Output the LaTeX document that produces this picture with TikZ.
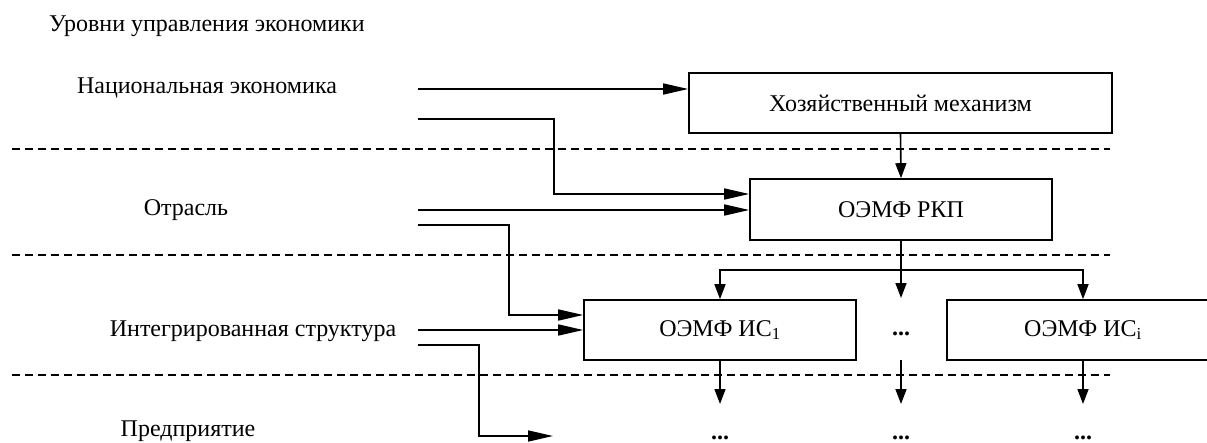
\documentclass[tikz,border=0pt]{standalone}
\usepackage{fontspec}
\setmainfont{Liberation Serif}
\usetikzlibrary{arrows.meta}
\tikzset{
  txt/.style={font=\fontsize{24}{28}\selectfont, inner sep=0pt},
  box/.style={draw, line width=1.6pt, inner sep=0pt, font=\fontsize{24}{28}\selectfont, minimum height=60pt},
  ln/.style={line width=1.6pt},
  harr/.style={ln, -{Triangle[length=25pt,width=11pt]}},
  varr/.style={ln, -{Triangle[length=15pt,width=11pt]}},
  sep/.style={line width=1.6pt, dash pattern=on 8pt off 5pt},
  dots/.style={font=\fontsize{24}{28}\selectfont\bfseries, inner sep=0pt, anchor=base}
}
\begin{document}
\begin{tikzpicture}[x=1pt,y=-1pt]
\useasboundingbox (0,0) rectangle (1207,442);
\clip (0,0) rectangle (1207,442);
% level labels
\node[txt, anchor=base west] (title) at (49,31) {Уровни управления экономики};
\node[txt, anchor=base] (nat) at (207,93) {Национальная экономика};
\node[txt, anchor=base] (otr) at (186,215) {Отрасль};
\node[txt, anchor=base] (int) at (253,336) {Интегрированная структура};
\node[txt, anchor=base] (pred) at (188,436) {Предприятие};
% separators
\coordinate (s1a) at (12,149); \coordinate (s1b) at (1110,149);
\coordinate (s2a) at (12,255); \coordinate (s2b) at (1110,255);
\coordinate (s3a) at (12,375); \coordinate (s3b) at (1110,375);
\draw[sep] (s1a) -- (s1b);
\draw[sep] (s2a) -- (s2b);
\draw[sep] (s3a) -- (s3b);
% boxes
\node[box, minimum width=423pt] (hoz) at (900.5,103) {Хозяйственный механизм};
\node[box, minimum width=302pt, minimum height=61pt] (rkp) at (901,209.5) {ОЭМФ РКП};
\node[box, minimum width=272pt] (is1) at (720,330) {ОЭМФ ИС\textsubscript{1}};
\node[box, minimum width=272pt] (isi) at (1083,330) {ОЭМФ ИС\textsubscript{i}};
% dots
\node[dots] (dmid) at (901,335) {...};
\node[dots] (d1) at (720,439) {...};
\node[dots] (d2) at (901,439) {...};
\node[dots] (d3) at (1083,439) {...};
% coordinates
\coordinate (n1) at (418,89);
\coordinate (n2) at (418,119);
\coordinate (c1) at (554,194);
\coordinate (o1) at (418,210);
\coordinate (o2) at (418,225);
\coordinate (c2) at (509,315);
\coordinate (i1) at (418,330);
\coordinate (i2) at (418,345);
\coordinate (c3) at (479,436);
\coordinate (p1) at (553,436);
\coordinate (j) at (901,270);
\coordinate (mtip) at (901,298);
\coordinate (m1) at (901,360);
\coordinate (m2) at (901,404);
\coordinate (t1) at (720,404);
\coordinate (t3) at (1083,404);
% connectors
\draw[harr] (n1) -- (n1 -| hoz.west);
\draw[harr] (n2) -| (c1) -- (c1 -| rkp.west);
\draw[varr] (hoz.south) -- (rkp.north);
\draw[harr] (o1) -- (o1 -| rkp.west);
\draw[harr] (o2) -| (c2) -- (c2 -| is1.west);
\draw[ln] (rkp.south) -- (j);
\draw[varr] (j) -| (is1.north);
\draw[varr] (j) -| (isi.north);
\draw[varr] (j) -- (mtip);
\draw[harr] (i1) -- (i1 -| is1.west);
\draw[harr] (i2) -| (c3) -- (p1);
\draw[varr] (is1.south) -- (t1);
\draw[varr] (m1) -- (m2);
\draw[varr] (isi.south) -- (t3);
\end{tikzpicture}
\end{document}
